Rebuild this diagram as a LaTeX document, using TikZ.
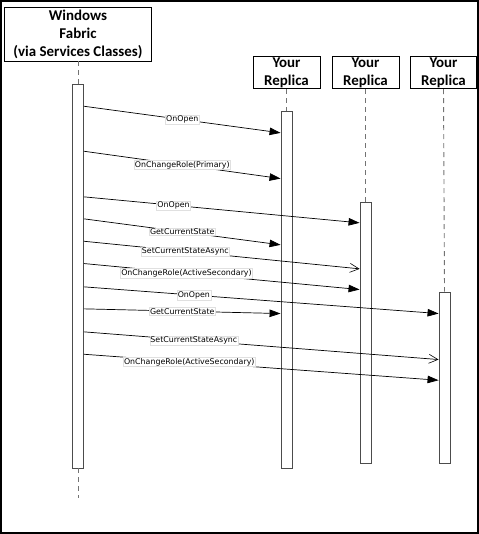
\documentclass[tikz,border=0pt]{standalone}
\usepackage{fontspec}
\setmainfont{Carlito}
\newfontfamily\lblfont{DejaVu Sans}
\usetikzlibrary{arrows.meta}
\begin{document}
\begin{tikzpicture}[x=1bp,y=-1bp,
  header/.style={draw=black,line width=0.9bp,fill=white,font=\fontsize{15}{18}\selectfont\bfseries,align=center,inner sep=0pt},
  actbar/.style={draw=black!70,line width=0.9bp,fill=white,minimum width=11bp,inner sep=0pt},
  lifeline/.style={draw=black!55,line width=0.9bp,dash pattern=on 5bp off 4bp},
  msgline/.style={line width=0.7bp},
  sync/.style={msgline,-{Triangle[length=11bp,width=7.5bp]}},
  async/.style={msgline,-{Straight Barb[length=9bp,width=9bp,line width=0.6bp]}},
  msglabel/.style={fill=white,draw=black!12,line width=0.3bp,font=\lblfont\fontsize{7.9}{9}\selectfont,inner sep=0.8bp}
]
\useasboundingbox (0,0) rectangle (479,534);
\draw[line width=1.5bp] (1,1) rectangle (478,533);

% headers
\node[header,minimum width=147bp,minimum height=54bp] (wf) at (78,34) {Windows\\Fabric\\(via Services Classes)};
\node[header,minimum width=67bp,minimum height=32bp] (r1) at (286.5,72.7) {Your\\Replica};
\node[header,minimum width=67bp,minimum height=32bp] (r2) at (365.5,72.7) {Your\\Replica};
\node[header,minimum width=66bp,minimum height=32bp] (r3) at (443.5,72.7) {Your\\Replica};

% activation bars
\node[actbar,minimum height=384bp] (wfbar) at (78,276) {};
\node[actbar,minimum height=357bp] (b1) at (286.5,289.5) {};
\node[actbar,minimum height=261bp] (b2) at (365.5,332.5) {};
\node[actbar,minimum height=171bp] (b3) at (444.5,377.5) {};
\coordinate (wfend) at (78,498);

% lifelines
\draw[lifeline] (wf.south) -- (wfbar.north);
\draw[lifeline] (wfbar.south) -- (wfend);
\draw[lifeline] (r1.south) -- (b1.north);
\draw[lifeline] (r2.south) -- (b2.north);
\draw[lifeline] (r3.south) -- (b3.north);

% messages: start offset from wfbar top, target bar, end offset from its top
\newcommand\msgarrow[6]{%
  \draw[#6] ([yshift=-#1bp]wfbar.north east) -- node[msglabel,pos=#5] {#4} ([yshift=-#3bp]#2.north west);}

\msgarrow{22.7}{b1}{22.3}{OnOpen}{0.5}{sync}
\msgarrow{67.7}{b1}{68}{OnChangeRole(Primary)}{0.5}{sync}
\msgarrow{113.3}{b2}{21.3}{OnOpen}{0.325}{sync}
\msgarrow{135.3}{b1}{134.3}{GetCurrentState}{0.5}{sync}
\msgarrow{157.7}{b2}{67.3}{SetCurrentStateAsync}{0.368}{async}
\msgarrow{180}{b2}{88}{OnChangeRole(ActiveSecondary)}{0.372}{sync}
\msgarrow{203.3}{b3}{22}{OnOpen}{0.31}{sync}
\msgarrow{225.3}{b1}{203}{GetCurrentState}{0.5}{sync}
\msgarrow{248.3}{b3}{68}{SetCurrentStateAsync}{0.31}{async}
\msgarrow{270.7}{b3}{88.7}{OnChangeRole(ActiveSecondary)}{0.297}{sync}
\end{tikzpicture}
\end{document}
